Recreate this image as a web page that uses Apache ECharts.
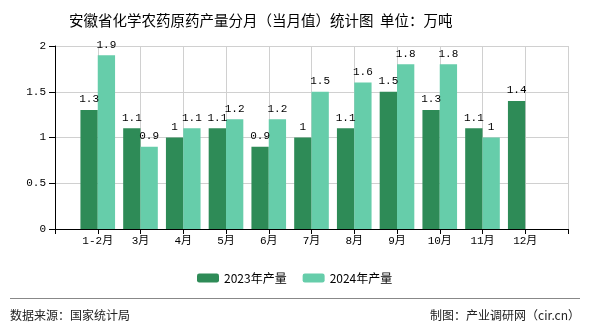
<!DOCTYPE html>
<html>
<head>
<meta charset="utf-8">
<script src="https://cdn.jsdelivr.net/npm/echarts@6/dist/echarts.min.js"></script>
<style>html,body{margin:0;padding:0;background:#fff}#c{width:590px;height:330px}</style>
</head>
<body>
<div id="c"></div>
<script>
const categories = ['1-2月','3月','4月','5月','6月','7月','8月','9月','10月','11月','12月'];
const values2023 = [1.3, 1.1, 1, 1.1, 0.9, 1, 1.1, 1.5, 1.3, 1.1, 1.4];
const values2024 = [1.9, 0.9, 1.1, 1.2, 1.2, 1.5, 1.6, 1.8, 1.8, 1, null];
const yTicks = [0, 0.5, 1, 1.5, 2];
const seriesNames = ['2023年产量', '2024年产量'];

const monoFont = '"Liberation Mono", "Noto Sans CJK SC", monospace';
const cjkFont = '"Noto Sans CJK SC", sans-serif';

const axisCats = [''].concat(categories, ['']);
const pad = arr => [null].concat(arr, [null]);

const chart = echarts.init(document.getElementById('c'), null, {renderer: 'canvas'});
chart.setOption({
  animation: false,
  backgroundColor: '#fff',
  title: {
    text: '安徽省化学农药原药产量分月（当月值）统计图  单位：万吨',
    left: 64, top: 8,
    textStyle: {fontSize: 14.5, fontWeight: 'normal', color: '#000', fontFamily: cjkFont}
  },
  legend: {
    data: seriesNames,
    left: 192, top: 267,
    itemWidth: 22, itemHeight: 9, itemGap: 16,
    textStyle: {fontSize: 12, color: '#000', fontFamily: cjkFont}
  },
  grid: {left: 55, right: 22, top: 46, bottom: 101, containLabel: false},
  xAxis: {
    type: 'category',
    data: axisCats,
    boundaryGap: false,
    axisLine: {lineStyle: {color: '#000', width: 1}},
    axisTick: {show: true, length: 5, lineStyle: {color: '#000'}, interval: 0},
    axisLabel: {interval: 0, color: '#000', fontSize: 11, margin: 7, fontFamily: monoFont},
    splitLine: {show: true, interval: 0, lineStyle: {color: '#d0d0d0', width: 1}}
  },
  yAxis: {
    type: 'value',
    min: yTicks[0], max: yTicks[yTicks.length - 1], interval: yTicks[1] - yTicks[0],
    axisLine: {show: true, lineStyle: {color: '#000', width: 1}},
    axisTick: {show: true, length: 6, lineStyle: {color: '#000'}},
    axisLabel: {color: '#000', fontSize: 11, margin: 9, fontFamily: monoFont},
    splitLine: {show: true, lineStyle: {color: '#d0d0d0', width: 1}}
  },
  series: [
    {
      name: seriesNames[0], type: 'bar', data: pad(values2023),
      itemStyle: {color: '#2E8B57'},
      barGap: '0%', barCategoryGap: '19%',
      label: {show: true, position: 'top', distance: 5, color: '#000', fontSize: 11, fontFamily: monoFont}
    },
    {
      name: seriesNames[1], type: 'bar', data: pad(values2024),
      itemStyle: {color: '#66CDAA'},
      barGap: '0%', barCategoryGap: '19%',
      label: {show: true, position: 'top', distance: 5, color: '#000', fontSize: 11, fontFamily: monoFont}
    }
  ],
  graphic: [
    {type: 'line', shape: {x1: 10, y1: 298.5, x2: 580, y2: 298.5}, style: {stroke: '#888', lineWidth: 1}},
    {type: 'text', left: 10, top: 309, style: {text: '数据来源：国家统计局', fontSize: 12, fill: '#222', fontFamily: cjkFont}},
    {type: 'text', right: 10, top: 309, style: {text: '制图：产业调研网（cir.cn）', fontSize: 12, fill: '#222', fontFamily: cjkFont}}
  ]
});
</script>
</body>
</html>
